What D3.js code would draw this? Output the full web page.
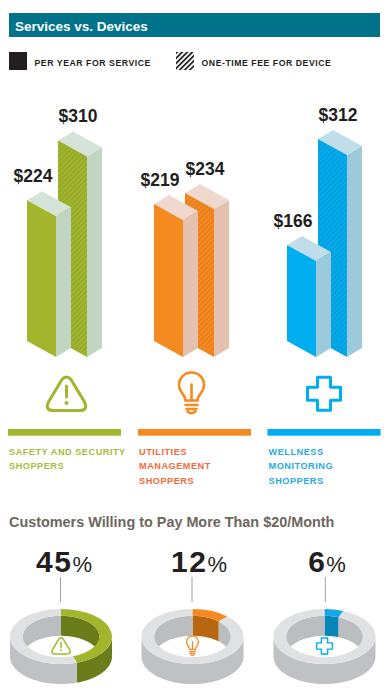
<!DOCTYPE html>
<html>
<head>
<meta charset="utf-8">
<style>
	html, body { margin: 0; padding: 0; background: #fff; }
	svg { display: block; font-family: "Liberation Sans", Arial, sans-serif; }
</style>
<script src="https://cdn.jsdelivr.net/npm/d3@7"></script>
</head>
<body>
<svg id="chart" width="386" height="700"></svg>
<script>
const categories = ['safety', 'utilities', 'wellness'];
const serviceFees = [224, 219, 166];
const deviceFees = [310, 234, 312];
const ringPercents = [45, 12, 6];
const shopperLabels = [
	['SAFETY AND SECURITY', 'SHOPPERS'],
	['UTILITIES', 'MANAGEMENT', 'SHOPPERS'],
	['WELLNESS', 'MONITORING', 'SHOPPERS']
];
const legendLabels = ['PER YEAR FOR SERVICE', 'ONE-TIME FEE FOR DEVICE'];

const colors = {
	front: ['#a3b52d', '#f58a21', '#00aeef'],
	stripe: ['#93a92b', '#e67e1e', '#0a9cdc'],
	side: ['#c0d6c3', '#e4c0ae', '#9ccadb'],
	top: ['#d5e4d8', '#efd9ce', '#c0deea'],
	text: ['#a9bb3c', '#f4693a', '#29aae2'],
	ringWall: ['#6a7d1a', '#b8660f', '#0a85b8'],
	ring: ['#a3b52d', '#f58a21', '#12a8e8']
};

const svg = d3.select('#chart');
const defs = svg.append('defs');

const hatch = (id, bg, fg, size, width) => {
	const p = defs.append('pattern')
		.attr('id', id)
		.attr('patternUnits', 'userSpaceOnUse')
		.attr('width', size).attr('height', size)
		.attr('patternTransform', 'rotate(45)');
	p.append('rect').attr('width', size).attr('height', size).attr('fill', bg);
	p.append('rect').attr('width', width).attr('height', size).attr('fill', fg);
};
categories.forEach((c, i) => hatch('hatch-' + c, colors.front[i], colors.stripe[i], 3.6, 1.6));
hatch('hatch-legend', '#fff', '#231f20', 3.6, 1.7);

// header
svg.append('rect')
	.attr('x', 9).attr('y', 13).attr('width', 371).attr('height', 24)
	.attr('fill', '#00728a');
svg.append('text')
	.attr('x', 15).attr('y', 31)
	.attr('fill', '#fff')
	.attr('font-size', 13.5).attr('font-weight', 'bold')
	.text('Services vs. Devices');

// legend
const legendX = d3.scaleOrdinal().domain(legendLabels).range([9, 176]);
const legend = svg.selectAll('g.legend').data(legendLabels).enter()
	.append('g').attr('class', 'legend')
	.attr('transform', d => `translate(${legendX(d)},52)`);
legend.append('rect')
	.attr('width', 18).attr('height', 18)
	.attr('fill', (d, i) => i === 0 ? '#231f20' : 'url(#hatch-legend)');
legend.append('text')
	.attr('x', 25.5).attr('y', 14)
	.attr('fill', '#231f20')
	.attr('font-size', 8.7).attr('font-weight', 'bold')
	.attr('letter-spacing', 0.55)
	.text(d => d);

// bars, the picture is not quite to scale so the height scale has several stops
const barHeight = d3.scaleLinear()
	.domain([166, 219, 234, 312])
	.range([96, 137, 148, 202]);
const groupX = d3.scaleOrdinal().domain(categories).range([27, 154, 287]);
const baseY = 357;
const frontW = 29, frontDrop = 16, sideW = 15, sideRise = 9, barGap = 31;

const drawBar = (g, x, value, i, fill) => {
	const h = barHeight(value);
	const yT = baseY - h;
	const poly = pts => pts.map(p => p.join(',')).join(' ');
	g.append('polygon')
		.attr('fill', colors.side[i])
		.attr('points', poly([[x + frontW, yT], [x + frontW + sideW, yT - sideRise], [x + frontW + sideW, baseY - sideRise], [x + frontW, baseY]]));
	g.append('polygon')
		.attr('fill', colors.top[i])
		.attr('points', poly([[x, yT - frontDrop], [x + sideW, yT - frontDrop - sideRise], [x + frontW + sideW, yT - sideRise], [x + frontW, yT]]));
	g.append('polygon')
		.attr('fill', fill)
		.attr('points', poly([[x, yT - frontDrop], [x + frontW, yT], [x + frontW, baseY], [x, baseY - frontDrop]]));
};

const barLabel = (x, value, dx) => {
	svg.append('text')
		.attr('x', x + dx)
		.attr('y', baseY - barHeight(value) - frontDrop - sideRise - 9)
		.attr('text-anchor', 'middle')
		.attr('fill', '#231f20')
		.attr('font-size', 17.5).attr('font-weight', 'bold')
		.text('$' + value);
};

categories.forEach((c, i) => {
	const g = svg.append('g');
	const x = groupX(c);
	drawBar(g, x + barGap, deviceFees[i], i, `url(#hatch-${c})`);
	drawBar(g, x, serviceFees[i], i, colors.front[i]);
	barLabel(x, serviceFees[i], 6);
	barLabel(x + barGap, deviceFees[i], 20);
});

// icons, drawn around 0,0
const iconDraw = {
	safety: (g, color) => {
		g.append('path')
			.attr('d', 'M-4.5,-14.5Q0,-19.5 4.5,-14.5L18,8Q22,16.5 13,16.5L-13,16.5Q-22,16.5 -18,8Z')
			.attr('fill', 'none').attr('stroke', color).attr('stroke-width', 3);
		g.append('line')
			.attr('x1', 0).attr('x2', 0).attr('y1', -8).attr('y2', 3)
			.attr('stroke', color).attr('stroke-width', 3).attr('stroke-linecap', 'round');
		g.append('circle').attr('cy', 9).attr('r', 2).attr('fill', color);
	},
	utilities: (g, color) => {
		g.append('path')
			.attr('d', 'M-6,7C-6,1 -12.5,-1 -12.5,-8.5A12.5,12.5 0 1 1 12.5,-8.5C12.5,-1 6,1 6,7Z')
			.attr('fill', 'none').attr('stroke', color).attr('stroke-width', 2.6);
		g.append('path')
			.attr('d', 'M0,-9V7M-6,11.5H6M-5,15.5H5M-4,18Q0,21.5 4,18')
			.attr('fill', 'none').attr('stroke', color).attr('stroke-width', 2.6).attr('stroke-linecap', 'round');
	},
	wellness: (g, color) => {
		g.append('path')
			.attr('d', 'M-6.5,-16.5H6.5V-6.5H16.5V6.5H6.5V16.5H-6.5V6.5H-16.5V-6.5H-6.5Z')
			.attr('fill', 'none').attr('stroke', color).attr('stroke-width', 3).attr('stroke-linejoin', 'round');
	}
};
const iconX = d3.scaleOrdinal().domain(categories).range([66.5, 191.5, 324]);
const iconY = d3.scaleOrdinal().domain(categories).range([394, 393.5, 393.7]);
categories.forEach((c, i) => {
	iconDraw[c](svg.append('g').attr('transform', `translate(${iconX(c)},${iconY(c)})`), colors.front[i]);
});

// dividers and shopper labels
const columnX = d3.scaleOrdinal().domain(categories).range([8, 138, 267.5]);
categories.forEach((c, i) => {
	svg.append('rect')
		.attr('x', columnX(c)).attr('y', 429).attr('width', 113).attr('height', 6.7)
		.attr('fill', colors.front[i]);
	svg.append('g').selectAll('text').data(shopperLabels[i]).enter()
		.append('text')
		.attr('x', columnX(c) + 1)
		.attr('y', (d, j) => 455 + j * 14.4)
		.attr('fill', colors.text[i])
		.attr('font-size', 9.2).attr('font-weight', 'bold')
		.attr('letter-spacing', 0.5)
		.text(d => d);
});

svg.append('text')
	.attr('x', 9).attr('y', 527)
	.attr('fill', '#6e665e')
	.attr('font-size', 14.4).attr('font-weight', 'bold')
	.text('Customers Willing to Pay More Than $20/Month');

// rings
const outerR = 51, innerR = 38.3, squash = 0.54, wall = 20, ringCy = 636.5;
const ringX = d3.scaleOrdinal().domain(categories).range([61, 192.5, 324.5]);
const leaderX = d3.scaleOrdinal().domain(categories).range([60.5, 192, 325.3]);
const percentX = d3.scaleOrdinal().domain(categories).range([64, 199, 327]);
const pie = d3.pie().sort(null).value(d => d);
const arc = d3.arc();

// parts of a slice that fall in the angle window, as sample angles
const sweep = (a0, a1, lo, hi) => {
	const from = Math.max(a0, lo), to = Math.min(a1, hi);
	return from < to ? d3.range(from, to, 0.02).concat(to) : null;
};

const wallArea = r => d3.area()
	.x(a => r * Math.sin(a))
	.y0(a => -r * squash * Math.cos(a))
	.y1(a => -r * squash * Math.cos(a) + wall);

categories.forEach((c, i) => {
	const g = svg.append('g').attr('transform', `translate(${ringX(c)},${ringCy})`);
	const slices = pie([ringPercents[i], 100 - ringPercents[i]]);

	slices.forEach((s, k) => {
		const fill = k === 0 ? colors.ringWall[i] : '#bcbdc0';
		[[0, Math.PI / 2], [Math.PI * 1.5, Math.PI * 2]].forEach(win => {
			const angles = sweep(s.startAngle, s.endAngle, win[0], win[1]);
			if (angles) g.append('path').attr('d', wallArea(innerR)(angles)).attr('fill', fill);
		});
	});
	slices.forEach((s, k) => {
		const angles = sweep(s.startAngle, s.endAngle, Math.PI / 2, Math.PI * 1.5);
		if (angles) g.append('path').attr('d', wallArea(outerR)(angles)).attr('fill', k === 0 ? colors.ringWall[i] : '#c0c1c4');
	});
	const topFace = g.append('g').attr('transform', `scale(1,${squash})`);
	slices.forEach((s, k) => {
		topFace.append('path')
			.attr('d', arc({ innerRadius: innerR, outerRadius: outerR, startAngle: s.startAngle, endAngle: s.endAngle }))
			.attr('fill', k === 0 ? colors.ring[i] : '#e0e1e3');
	});

	svg.append('line')
		.attr('x1', leaderX(c)).attr('x2', leaderX(c)).attr('y1', 577).attr('y2', 602)
		.attr('stroke', '#8a8a8c').attr('stroke-width', 0.8);

	const t = svg.append('text')
		.attr('x', percentX(c)).attr('y', 572)
		.attr('text-anchor', 'middle')
		.attr('fill', '#231f20');
	t.append('tspan').attr('font-size', 30).attr('font-weight', 'bold').attr('letter-spacing', 1.5).text(ringPercents[i]);
	t.append('tspan').attr('font-size', 22).text('%');

	iconDraw[c](g.append('g').attr('transform', 'translate(0,9.5) scale(0.48)'), colors.front[i]);
});
</script>
</body>
</html>
